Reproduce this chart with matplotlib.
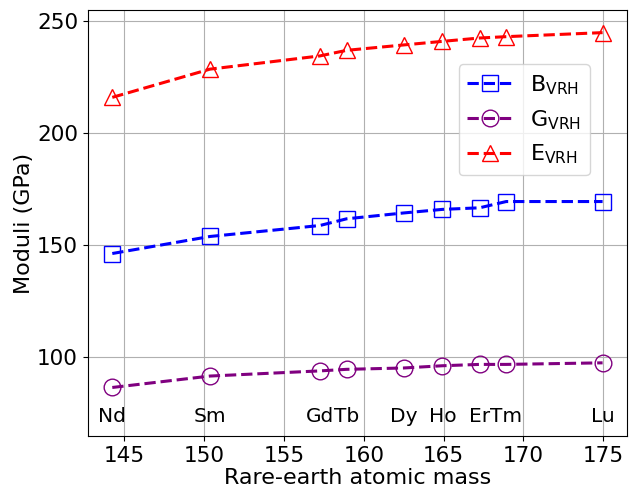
import matplotlib
matplotlib.use("Agg")
import matplotlib.pyplot as plt

# Rare-earth elements and their atomic masses
elements = ["Nd", "Sm", "Gd", "Tb", "Dy", "Ho", "Er", "Tm", "Lu"]
masses = [144.24, 150.36, 157.25, 158.93, 162.50, 164.93, 167.26, 168.93, 174.97]

# Elastic moduli (GPa), Voigt-Reuss-Hill averages
bulk = [146.4, 154.0, 158.9, 161.9, 164.5, 166.1, 166.8, 169.6, 169.6]
shear = [86.6, 91.7, 94.0, 94.7, 95.3, 96.3, 96.9, 96.9, 97.6]
young = [216.1, 228.7, 234.6, 237.1, 239.5, 241.1, 242.6, 243.2, 245.0]
yticks = [100, 150, 200, 250]

fig, ax = plt.subplots(figsize=(6.36, 4.87), dpi=100)
fig.subplots_adjust(left=0.138, right=0.986, bottom=0.105, top=0.979)

style = dict(linestyle="--", linewidth=2.2, markersize=12,
             markerfacecolor="none", markeredgewidth=1.0)
ax.plot(masses, bulk, marker="s", color="blue", label=r"B$_{\rm VRH}$", **style)
ax.plot(masses, shear, marker="o", color="purple", label=r"G$_{\rm VRH}$", **style)
ax.plot(masses, young, marker="^", color="red", label=r"E$_{\rm VRH}$", **style)

# Element names along the bottom
for name, m in zip(elements, masses):
    ax.text(m, 73.5, name, ha="center", va="center", fontsize=14.5)

ax.set_ylim(65, 255)
ax.set_yticks(yticks)
ax.set_xlabel("Rare-earth atomic mass", fontsize=16, labelpad=2)
ax.set_ylabel("Moduli (GPa)", fontsize=16, labelpad=2)
ax.tick_params(labelsize=15.5)
ax.grid(True)
ax.legend(loc="upper right", bbox_to_anchor=(0.951, 0.899), fontsize=16)

fig.savefig("out.png")
